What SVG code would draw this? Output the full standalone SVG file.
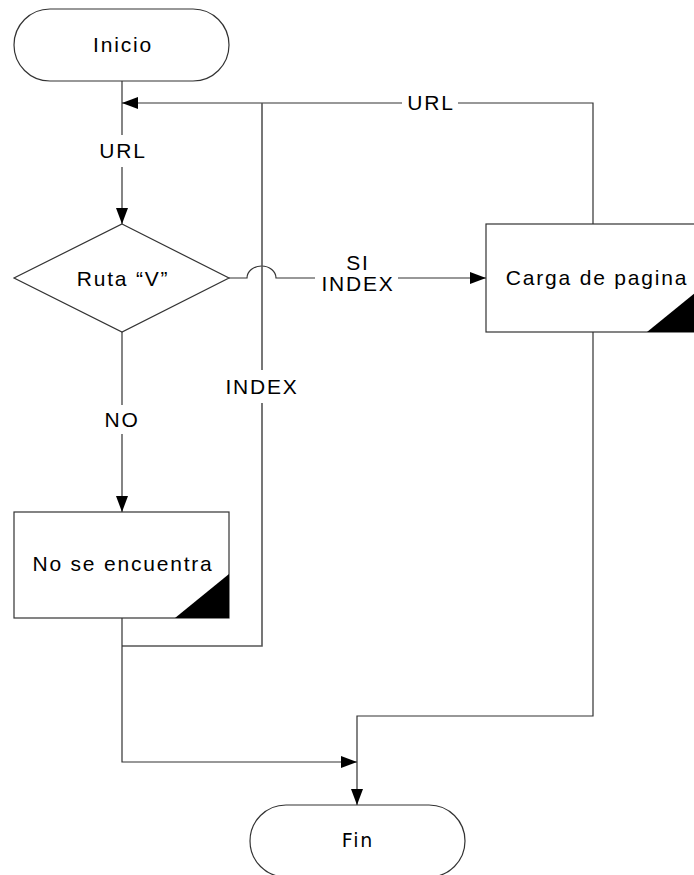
<svg xmlns="http://www.w3.org/2000/svg" width="694" height="875" viewBox="0 0 694 875">
<style>
.shape{fill:#fff;stroke:#333;stroke-width:1.2}
.corner{fill:#000;stroke:none}
.lbl{font-family:"Liberation Sans",Arial,sans-serif;font-size:21px;letter-spacing:1.8px;fill:#000;text-anchor:middle}
.lblfin{font-family:"DejaVu Sans",sans-serif;font-size:19px;letter-spacing:1.8px;fill:#000;text-anchor:middle}
.conn{fill:none;stroke:#333;stroke-width:1.2}
.conn2{fill:none;stroke:#555;stroke-width:1.6}
</style>
<defs>
<marker id="arr" markerUnits="userSpaceOnUse" markerWidth="16" markerHeight="12" refX="16" refY="6" orient="auto">
<path d="M0,0 L16,6 L0,12 z" fill="#000"/>
</marker>
</defs>
<rect width="694" height="875" fill="#fff"/>
<g id="connectors">
<path class="conn" d="M122,81 V135"/>
<path class="conn" d="M122,167 V224" marker-end="url(#arr)"/>
<path class="conn" d="M593,224 V103 H458"/>
<path class="conn" d="M402,103 H122" marker-end="url(#arr)"/>
<path class="conn" d="M229,278 H247 A14.5 12 0 0 1 276,278 H315"/>
<path class="conn" d="M398,278 H486" marker-end="url(#arr)"/>
<path class="conn" d="M122,332 V405"/>
<path class="conn" d="M122,434 V512" marker-end="url(#arr)"/>
<path class="conn2" d="M122,646 H262 V403"/>
<path class="conn2" d="M262,370 V103"/>
<path class="conn" d="M122,618 V762 H357" marker-end="url(#arr)"/>
<path class="conn" d="M593,332 V716 H357 V805" marker-end="url(#arr)"/>
<text class="lbl" x="123" y="158">URL</text>
<text class="lbl" x="431" y="110">URL</text>
<text class="lbl" x="358" y="270">SI</text>
<text class="lbl" x="358" y="291">INDEX</text>
<text class="lbl" x="122" y="427">NO</text>
<text class="lbl" x="262" y="394">INDEX</text>
</g>
<g id="inicio">
<rect class="shape" x="14" y="9" width="215" height="72" rx="36" ry="36"/>
<text class="lbl" x="123" y="52">Inicio</text>
</g>
<g id="ruta">
<polygon class="shape" points="122,224 229,278 122,332 14,278"/>
<text class="lbl" x="123" y="286">Ruta “V”</text>
</g>
<g id="carga">
<rect class="shape" x="486" y="224" width="215" height="108"/>
<polygon class="corner" points="647,332 701,332 701,288"/>
<text class="lbl" x="597" y="285">Carga de pagina</text>
</g>
<g id="noencuentra">
<rect class="shape" x="14" y="512" width="215" height="106"/>
<polygon class="corner" points="175,618 229,618 229,574"/>
<text class="lbl" x="123" y="571">No se encuentra</text>
</g>
<g id="fin">
<rect class="shape" x="250" y="805" width="215" height="72" rx="36" ry="36"/>
<text class="lblfin" x="358" y="847">Fin</text>
</g>
</svg>
